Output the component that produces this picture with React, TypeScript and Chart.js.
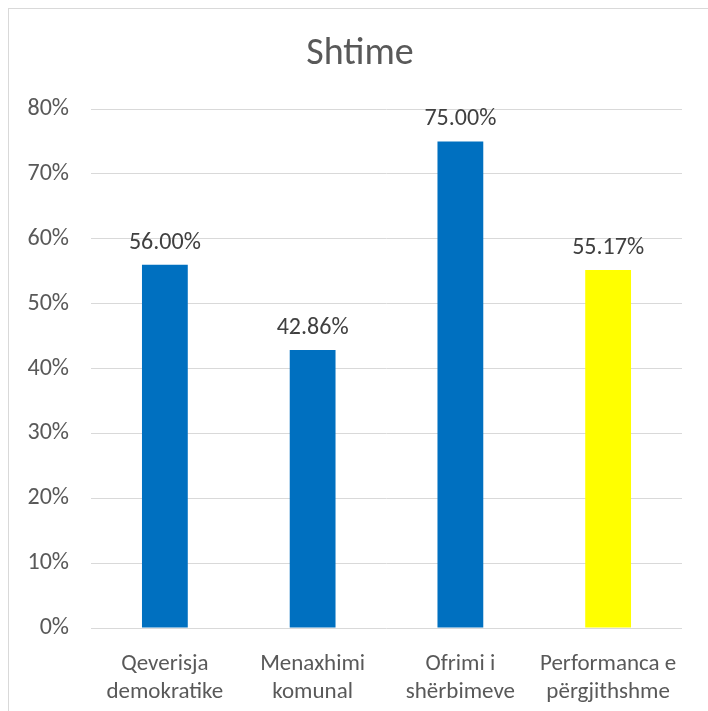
import React, { useEffect, useRef } from "react";
import { Chart, registerables } from "chart.js";

Chart.register(...registerables);

const title = "Shtime";
const categories: string[][] = [
  ["Qeverisja", "demokratike"],
  ["Menaxhimi", "komunal"],
  ["Ofrimi i", "shërbimeve"],
  ["Performanca e", "përgjithshme"],
];
const values: number[] = [56.0, 42.86, 75.0, 55.17];
const barColors: string[] = ["#0070C0", "#0070C0", "#0070C0", "#FFFF00"];
const yTicks = { min: 0, max: 80, step: 10 };

const FONT = "Carlito, Lato, 'Open Sans', sans-serif";
const TEXT = "#595959";
const W = 708;
const H = 720;

const labelPlugin = {
  id: "valueLabels",
  afterDatasetsDraw(chart: any) {
    const ctx = chart.ctx;
    const meta = chart.getDatasetMeta(0);
    ctx.save();
    ctx.font = `24px ${FONT}`;
    ctx.fillStyle = "#404040";
    ctx.textAlign = "center";
    ctx.textBaseline = "middle";
    meta.data.forEach((bar: any, i: number) => {
      ctx.fillText(values[i].toFixed(2) + "%", bar.x, bar.y - 22);
    });
    ctx.restore();
  },
};

const titlePlugin = {
  id: "centeredTitle",
  afterDraw(chart: any) {
    const ctx = chart.ctx;
    ctx.save();
    ctx.font = `38px ${FONT}`;
    ctx.fillStyle = TEXT;
    ctx.textAlign = "center";
    ctx.textBaseline = "middle";
    ctx.fillText(title, chart.width / 2 - 3, 45);
    ctx.restore();
  },
};

export default function App() {
  const ref = useRef<HTMLCanvasElement>(null);
  useEffect(() => {
    if (!ref.current) return;
    const chart = new Chart(ref.current, {
      type: "bar",
      data: {
        labels: categories,
        datasets: [
          {
            data: values,
            backgroundColor: barColors,
            categoryPercentage: 1,
            barPercentage: 0.31,
          },
        ],
      },
      options: {
        responsive: false,
        animation: false,
        devicePixelRatio: 1,
        layout: { padding: { left: 0, right: 35, top: 100, bottom: 0 } },
        plugins: {
          legend: { display: false },
          tooltip: { enabled: false },
          title: { display: false },
        },
        scales: {
          x: {
            grid: { display: false },
            border: { display: false },
            ticks: {
              color: TEXT,
              font: { family: FONT, size: 23, lineHeight: 1.22 },
              padding: 14,
              maxRotation: 0,
              autoSkip: false,
            },
            afterFit: (s: any) => {
              s.height = 101;
            },
          },
          y: {
            min: yTicks.min,
            max: yTicks.max,
            grid: { color: "#d9d9d9", lineWidth: 1, drawTicks: false },
            border: { display: false },
            ticks: {
              stepSize: yTicks.step,
              color: TEXT,
              font: { family: FONT, size: 24 },
              padding: 22,
              callback: (v: any) => v + "%",
            },
            afterFit: (s: any) => {
              s.width = 82;
            },
          },
        },
      },
      plugins: [labelPlugin, titlePlugin],
    });
    return () => chart.destroy();
  }, []);
  return (
    <div
      style={{
        position: "fixed",
        left: 0,
        top: 0,
        width: 708,
        height: 711,
        overflow: "hidden",
        background: "#fff",
      }}
    >
      <div
        style={{
          position: "absolute",
          left: 8,
          top: 8,
          width: W,
          height: H,
          border: "1px solid #d9d9d9",
        }}
      >
        <canvas ref={ref} width={W} height={H} style={{ display: "block" }} />
      </div>
    </div>
  );
}
